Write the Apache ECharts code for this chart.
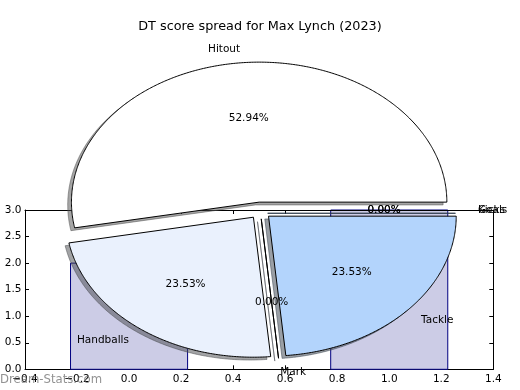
<!DOCTYPE html>
<html><head><meta charset="utf-8">
<script src="https://cdn.jsdelivr.net/npm/echarts@6/dist/echarts.min.js"></script>
<style>html,body{margin:0;padding:0;background:#fff}#c{width:520px;height:390px}</style>
</head><body><div id="c"></div>
<script>
// ---- data ----
const chartTitle = 'DT score spread for Max Lynch (2023)';
const watermarkText = 'Dream-Stats.com';
const sliceNames = ['Hitout', 'Handballs', 'Mark', 'Tackle', 'Kicks', 'Goals'];
const sliceValues = [9, 4, 0, 4, 0, 0];
const barX = [0, 1];
const barValues = [2, 3];
const xTickValues = [-0.4, -0.2, 0.0, 0.2, 0.4, 0.6, 0.8, 1.0, 1.2, 1.4];
const yTickValues = [0.0, 0.5, 1.0, 1.5, 2.0, 2.5, 3.0];

// ---- styles / layout ----
const sliceColors = ['#ffffff', '#eaf1fd', '#d2e4fc', '#b3d4fc', '#9cc5f7', '#85b6f2'];
const BAR_HALF = 0.225;
const PIE = { cx: 260.2, cy: 210.5, rx: 187.7, ry: 140, explode: 0.06, labelDist: 1.1, pctDist: 0.6, sdx: -3.75, sdy: 2.8 };
const FONT = '"DejaVu Sans", sans-serif';
const LBL = 10.5;

const total = sliceValues.reduce((a, b) => a + b, 0);
function sliceGeom(i) {
  let before = 0;
  for (let k = 0; k < i; k++) before += sliceValues[k];
  const t1 = 360 * before / total, t2 = 360 * (before + sliceValues[i]) / total;
  const tm = (t1 + t2) / 2 * Math.PI / 180;
  return { t1, t2, tm,
    ox: PIE.cx + PIE.explode * PIE.rx * Math.cos(tm),
    oy: PIE.cy - PIE.explode * PIE.ry * Math.sin(tm) };
}
function wedgePoints(g, dx, dy) {
  const pts = [[g.ox + dx, g.oy + dy]];
  const n = Math.max(1, Math.ceil((g.t2 - g.t1) / 0.5));
  for (let j = 0; j <= n; j++) {
    const a = (g.t1 + (g.t2 - g.t1) * j / n) * Math.PI / 180;
    pts.push([g.ox + dx + PIE.rx * Math.cos(a), g.oy + dy - PIE.ry * Math.sin(a)]);
  }
  return pts;
}
function shadowColor(hex) {
  const r = parseInt(hex.slice(1, 3), 16), g = parseInt(hex.slice(3, 5), 16), b = parseInt(hex.slice(5, 7), 16);
  return 'rgba(' + Math.round(r * 0.3) + ',' + Math.round(g * 0.3) + ',' + Math.round(b * 0.3) + ',0.5)';
}
function fmt(v) {
  if (Math.abs(v) < 1e-9) return '0.0';
  return (v < 0 ? '\u2212' : '') + Math.abs(v).toFixed(1);
}
const pieData = sliceValues.map((v, i) => ({ name: sliceNames[i], value: [v, i] }));

const axisCommon = {
  type: 'value',
  axisLine: { show: true, onZero: false, lineStyle: { color: '#000', width: 1 } },
  axisTick: { show: true, inside: true, length: 4, lineStyle: { color: '#000', width: 1 } },
  splitLine: { show: false }
};

const chart = echarts.init(document.getElementById('c'), null, { renderer: 'canvas' });
chart.setOption({
  animation: false,
  backgroundColor: '#ffffff',
  title: {
    text: chartTitle, left: 'center', top: 15,
    textStyle: { fontFamily: FONT, fontSize: 12.8, fontWeight: 'normal', color: '#000' }
  },
  grid: { left: 25, right: 26.7, top: 210, bottom: 20.7 },
  xAxis: [
    Object.assign({}, axisCommon, {
      position: 'bottom', min: xTickValues[0], max: xTickValues[xTickValues.length - 1],
      interval: 0.2,
      axisLabel: { show: true, margin: 4, color: '#000', fontFamily: FONT, fontSize: LBL, formatter: fmt }
    }),
    Object.assign({}, axisCommon, {
      position: 'top', min: xTickValues[0], max: xTickValues[xTickValues.length - 1],
      interval: 0.2, axisLabel: { show: false }
    })
  ],
  yAxis: [
    Object.assign({}, axisCommon, {
      position: 'left', min: yTickValues[0], max: yTickValues[yTickValues.length - 1],
      interval: 0.5,
      axisLabel: { show: true, margin: 3.5, color: '#000', fontFamily: FONT, fontSize: LBL, formatter: fmt }
    }),
    Object.assign({}, axisCommon, {
      position: 'right', min: yTickValues[0], max: yTickValues[yTickValues.length - 1],
      interval: 0.5, axisLabel: { show: false }
    })
  ],
  graphic: [{
    type: 'text', left: 0, top: 374, z: 100, silent: true,
    style: { text: watermarkText, fill: 'rgba(110,110,110,0.75)', font: '11.7px ' + FONT }
  }],
  series: [
    {
      type: 'custom', name: 'bars', coordinateSystem: 'cartesian2d', xAxisIndex: 0, yAxisIndex: 0,
      z: 1, silent: true, encode: { x: 0, y: 1 },
      data: barX.map((x, i) => [x, barValues[i]]),
      renderItem: function (params, api) {
        const x = api.value(0), h = api.value(1);
        const p0 = api.coord([x - BAR_HALF, h]);
        const p1 = api.coord([x + BAR_HALF, 0]);
        return { type: 'rect', shape: { x: p0[0], y: p0[1], width: p1[0] - p0[0], height: p1[1] - p0[1] },
          style: { fill: '#ccccE6', stroke: '#000080', lineWidth: 1 } };
      }
    },
    {
      type: 'custom', name: 'shadows', coordinateSystem: 'none', z: 3, silent: true,
      data: pieData,
      renderItem: function (params, api) {
        const i = api.value(1);
        const g = sliceGeom(i);
        const c = shadowColor(sliceColors[i]);
        return { type: 'polygon', shape: { points: wedgePoints(g, PIE.sdx, PIE.sdy) },
          style: { fill: c, stroke: c, lineWidth: 1 } };
      }
    },
    {
      type: 'custom', name: 'wedges', coordinateSystem: 'none', z: 4, silent: true,
      data: pieData,
      renderItem: function (params, api) {
        const i = api.value(1);
        const g = sliceGeom(i);
        return { type: 'polygon', shape: { points: wedgePoints(g, 0, 0) },
          style: { fill: sliceColors[i], stroke: '#000', lineWidth: 1 } };
      }
    },
    {
      type: 'custom', name: 'labels', coordinateSystem: 'none', z: 5, silent: true,
      data: pieData,
      renderItem: function (params, api) {
        const v = api.value(0), i = api.value(1);
        const g = sliceGeom(i);
        const c = Math.cos(g.tm), s = Math.sin(g.tm);
        const lx = g.ox + PIE.labelDist * PIE.rx * c, ly = g.oy - PIE.labelDist * PIE.ry * s;
        const px = g.ox + PIE.pctDist * PIE.rx * c, py = g.oy - PIE.pctDist * PIE.ry * s;
        return { type: 'group', children: [
          { type: 'text', x: lx, y: ly, style: { text: sliceNames[i], fill: '#000', font: LBL + 'px ' + FONT,
            align: lx > PIE.cx ? 'left' : 'right', verticalAlign: 'middle' } },
          { type: 'text', x: px, y: py, style: { text: (100 * v / total).toFixed(2) + '%', fill: '#000', font: LBL + 'px ' + FONT,
            align: 'center', verticalAlign: 'middle' } }
        ] };
      }
    }
  ]
});
</script>
</body></html>
